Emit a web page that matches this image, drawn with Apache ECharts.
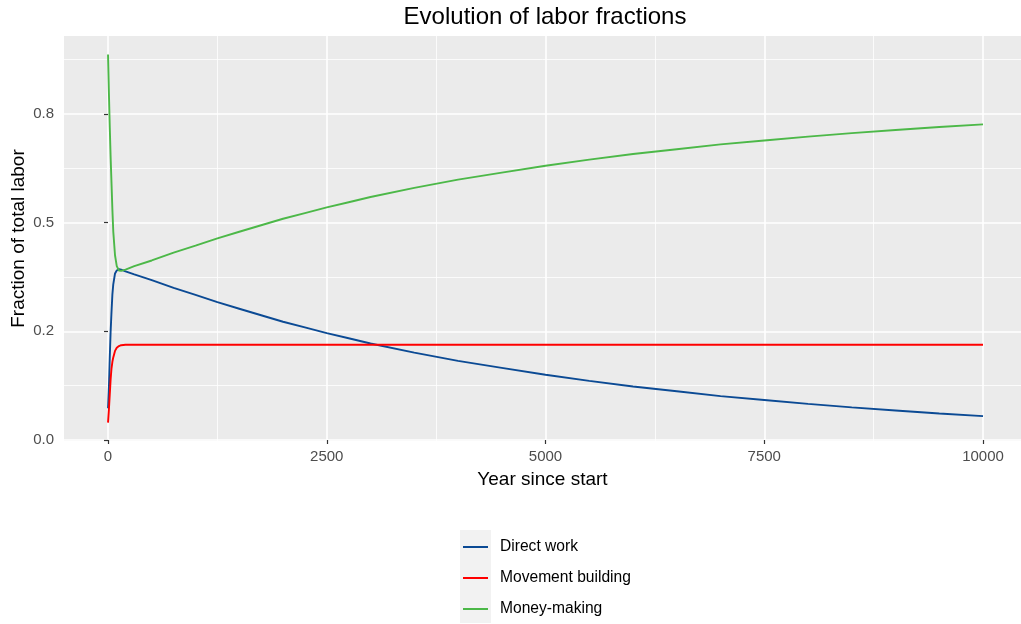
<!DOCTYPE html>
<html>
<head>
<meta charset="utf-8">
<script src="https://cdn.jsdelivr.net/npm/echarts@6/dist/echarts.min.js"></script>
<style>
html, body { margin: 0; padding: 0; background: #fff; }
#chart { width: 1021px; height: 624px; }
</style>
</head>
<body>
<div id="chart"></div>
<script>
// values
var years = [0, 10, 20, 30, 40, 50, 60, 80, 100, 125, 150, 200, 300, 500, 750, 1000, 1250, 1500, 1750, 2000, 2250, 2500,
  2750, 3000, 3500, 4000, 4500, 5000, 5500, 6000, 6500, 7000, 7500, 8000, 8500, 9000, 9500, 10000];
var directWork = [0.073, 0.12, 0.19, 0.25, 0.295, 0.335, 0.358, 0.383, 0.390, 0.393, 0.392, 0.388, 0.381, 0.368, 0.350, 0.334, 0.317, 0.302, 0.287, 0.272, 0.259, 0.246,
  0.234, 0.222, 0.201, 0.182, 0.166, 0.150, 0.136, 0.123, 0.112, 0.101, 0.092, 0.083, 0.075, 0.068, 0.061, 0.055];
var movementBuilding = [0.040, 0.070, 0.105, 0.140, 0.165, 0.180, 0.190, 0.205, 0.212, 0.216, 0.218, 0.219, 0.219, 0.219, 0.219, 0.219, 0.219, 0.219, 0.219, 0.219, 0.219, 0.219,
  0.219, 0.219, 0.219, 0.219, 0.219, 0.219, 0.219, 0.219, 0.219, 0.219, 0.219, 0.219, 0.219, 0.219, 0.219, 0.219];
var moneyMaking = [0.887, 0.80, 0.72, 0.65, 0.59, 0.53, 0.48, 0.425, 0.400, 0.390, 0.389, 0.392, 0.400, 0.413, 0.431, 0.447, 0.464, 0.479, 0.494, 0.509, 0.522, 0.535,
  0.547, 0.559, 0.580, 0.599, 0.615, 0.631, 0.645, 0.658, 0.669, 0.680, 0.689, 0.698, 0.706, 0.713, 0.720, 0.726];

var seriesNames = ['Direct work', 'Movement building', 'Money-making'];
var seriesColors = ['#0b4a94', '#ff0000', '#4cb848'];

var xTicks = [0, 2500, 5000, 7500, 10000];
var xMinorTicks = [1250, 3750, 6250, 8750];
var yTicks = [0, 0.25, 0.5, 0.75];
var yTickLabels = ['0.0', '0.2', '0.5', '0.8'];
var yMinorTicks = [0.125, 0.375, 0.625, 0.875];

var font = 'Liberation Sans, Arial, sans-serif';

function pairs(xs, ys) {
  return xs.map(function (x, i) { return [x, ys[i]]; });
}

var chart = echarts.init(document.getElementById('chart'), null, { renderer: 'canvas' });

var allSeries = [directWork, movementBuilding, moneyMaking].map(function (vals, i) {
  return {
    name: seriesNames[i],
    type: 'line',
    data: pairs(years, vals),
    showSymbol: false,
    symbol: 'none',
    lineStyle: { color: seriesColors[i], width: 1.9 },
    itemStyle: { color: seriesColors[i] },
    z: 3
  };
});

var option = {
  animation: false,
  backgroundColor: '#ffffff',
  title: {
    text: 'Evolution of labor fractions',
    left: 540,
    top: 0,
    textAlign: 'center',
    textStyle: { fontFamily: font, fontSize: 24, fontWeight: 'normal', color: '#000' }
  },
  grid: {
    left: 64, right: 0, top: 36, bottom: 183,
    outerBoundsMode: 'none',
    containLabel: false,
    show: true, backgroundColor: '#ebebeb', borderWidth: 0
  },
  legend: {
    orient: 'vertical',
    left: 463,
    top: 538,
    height: 86,
    padding: 0,
    icon: 'rect',
    itemWidth: 25,
    itemHeight: 2,
    itemGap: 13,
    data: seriesNames,
    textStyle: { fontFamily: font, fontSize: 15.6, color: '#000', padding: [0, 0, 0, 7], lineHeight: 18 }
  },
  graphic: [{
    type: 'rect',
    left: 460, top: 530,
    shape: { width: 31, height: 93 },
    style: { fill: '#f2f2f2' },
    z: -1
  }],
  xAxis: [{
    type: 'value',
    min: -503, max: 10434,
    name: 'Year since start',
    nameLocation: 'middle',
    nameGap: 29,
    nameTextStyle: { fontFamily: font, fontSize: 19, color: '#000' },
    axisLine: { show: false },
    axisTick: { show: true, length: 4, customValues: xTicks, lineStyle: { color: '#333', width: 1.2 } },
    axisLabel: {
      customValues: xTicks, margin: 8, fontFamily: font, fontSize: 15, color: '#4d4d4d',
      formatter: function (v) { return String(v); }
    },
    splitLine: { show: true, lineStyle: { color: '#fff', width: 1.6 } }
  }, {
    type: 'value',
    min: -503, max: 10434,
    axisLine: { show: false },
    axisTick: { show: false, customValues: xMinorTicks },
    axisLabel: { show: false, customValues: xMinorTicks },
    splitLine: { show: true, lineStyle: { color: '#fff', width: 0.8 } }
  }],
  yAxis: [{
    type: 'value',
    min: -0.0023, max: 0.9294,
    name: 'Fraction of total labor',
    nameLocation: 'middle',
    nameGap: 36,
    nameMoveOverlap: false,
    nameTextStyle: { fontFamily: font, fontSize: 19, color: '#000' },
    axisLine: { show: false },
    axisTick: { show: true, length: 4, customValues: yTicks, lineStyle: { color: '#333', width: 1.2 } },
    axisLabel: {
      customValues: yTicks, margin: 10, fontFamily: font, fontSize: 15, color: '#4d4d4d',
      formatter: function (v) {
        var k = yTicks.indexOf(v);
        return k >= 0 ? yTickLabels[k] : '';
      }
    },
    splitLine: { show: true, lineStyle: { color: '#fff', width: 1.6 } }
  }, {
    type: 'value',
    min: -0.0023, max: 0.9294,
    axisLine: { show: false },
    axisTick: { show: false, customValues: yMinorTicks },
    axisLabel: { show: false, customValues: yMinorTicks },
    splitLine: { show: true, lineStyle: { color: '#fff', width: 0.8 } }
  }],
  series: allSeries
};

chart.setOption(option);
</script>
</body>
</html>
